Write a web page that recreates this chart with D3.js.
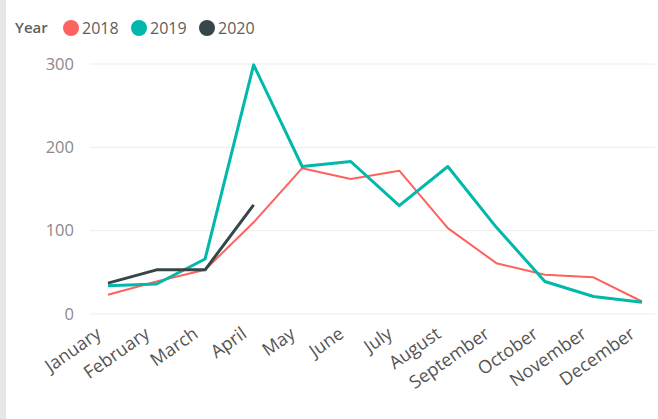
<!DOCTYPE html>
<meta charset="utf-8">
<style>
  body { margin: 0; background: #fff; font-family: "Segoe UI", "Open Sans", sans-serif; }
  .grid line { stroke: #ececec; }
  .axis text { fill: #8a8a8a; }
  .xaxis text { fill: #555; }
</style>
<body>
<script src="https://d3js.org/d3.v7.min.js"></script>
<script>

const months = ["January", "February", "March", "April", "May", "June", "July",
  "August", "September", "October", "November", "December"];
const years = ["2018", "2019", "2020"];
const v2018 = [23, 39, 53, 110, 175, 162, 172, 103, 61, 47, 44, 15];
const v2019 = [34, 36, 66, 299, 177, 183, 130, 177, 104, 39, 21, 14];
const v2020 = [37, 53, 53, 131];
const yTicks = [0, 100, 200, 300];
const colors = ["#FD625E", "#01B8AA", "#374649"];

const width = 658, height = 419;

let svg = d3.select("body").append("svg")
    .attr("width", width)
    .attr("height", height);

// grey strip on the left edge
svg.append("rect")
    .attr("x", 0).attr("y", 0)
    .attr("width", 6).attr("height", height)
    .attr("fill", "#e6e6e6");

let x = d3.scalePoint()
    .domain(months)
    .range([108, 642]);

let y = d3.scaleLinear()
    .domain([0, 300])
    .range([314, 64]);

// gridlines
let grid = svg.append("g").attr("class", "grid");
grid.selectAll("line")
  .data(yTicks)
  .join("line")
    .attr("x1", 90).attr("x2", 655)
    .attr("y1", d => y(d)).attr("y2", d => y(d));

// y labels
svg.append("g")
    .attr("class", "axis")
  .selectAll("text")
  .data(yTicks)
  .join("text")
    .attr("x", 74)
    .attr("y", d => y(d))
    .attr("dy", "0.35em")
    .attr("text-anchor", "end")
    .style("font-size", "16.5px")
    .text(d => d);

// x labels, rotated
svg.append("g")
    .attr("class", "axis xaxis")
  .selectAll("text")
  .data(months)
  .join("text")
    .attr("transform", d => `translate(${x(d) - 13},${326}) rotate(-35)`)
    .attr("text-anchor", "end")
    .attr("dy", "0.71em")
    .style("font-size", "18px")
    .text(d => d);

let series = [
  {year: "2018", values: v2018, width: 2},
  {year: "2019", values: v2019, width: 3},
  {year: "2020", values: v2020, width: 3}
];

let color = d3.scaleOrdinal().domain(years).range(colors);

let line = d3.line()
    .x((d, i) => x(months[i]))
    .y(d => y(d));

svg.append("g")
  .selectAll("path")
  .data(series)
  .join("path")
    .attr("d", d => line(d.values))
    .attr("fill", "none")
    .attr("stroke", d => color(d.year))
    .attr("stroke-width", d => d.width)
    .attr("stroke-linejoin", "round");

// legend
let legend = svg.append("g").attr("transform", "translate(0,28)");
legend.append("text")
    .attr("x", 15)
    .attr("dy", "0.35em")
    .style("font-size", "15px")
    .style("font-weight", "600")
    .attr("fill", "#605E5C")
    .text("Year");

let items = legend.selectAll(".item")
  .data(years)
  .join("g")
    .attr("class", "item")
    .attr("transform", (d, i) => `translate(${71 + i * 68},0)`);

items.append("circle")
    .attr("r", 8)
    .attr("fill", d => color(d));

items.append("text")
    .attr("x", 11)
    .attr("dy", "0.35em")
    .style("font-size", "16px")
    .attr("fill", "#605E5C")
    .text(d => d);

</script>
